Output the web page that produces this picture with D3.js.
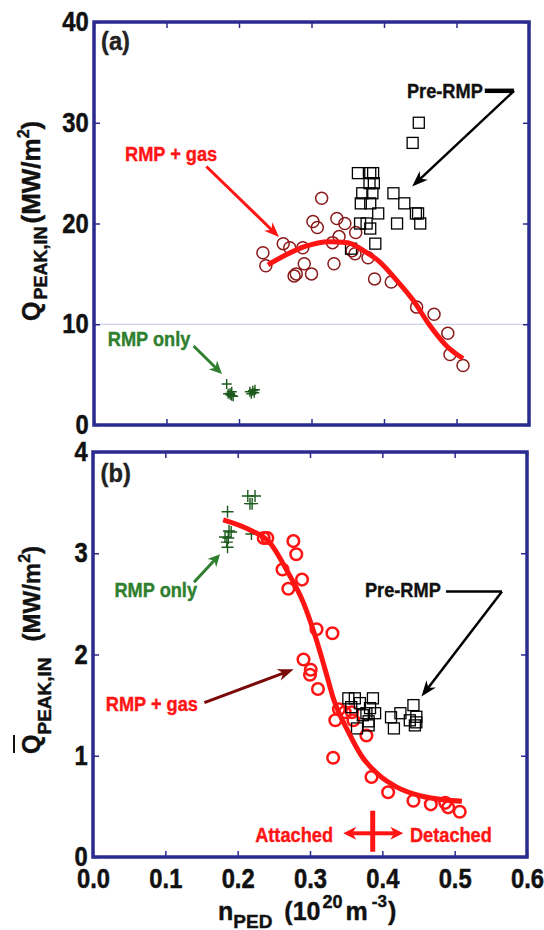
<!DOCTYPE html>
<html>
<head>
<meta charset="utf-8">
<script src="https://cdn.jsdelivr.net/npm/d3@7"></script>
<style>
  body { margin: 0; background: #fff; }
  svg text { font-family: "Liberation Sans", Arial, sans-serif; font-weight: bold; }
</style>
</head>
<body>
<svg id="chart"></svg>
<script>
const xTicks = [0, 0.1, 0.2, 0.3, 0.4, 0.5, 0.6];
const yTicksA = [0, 10, 20, 30, 40];
const yTicksB = [0, 1, 2, 3, 4];

// panel (a): peak heat flux
const gasA = [[0.233,17.1],[0.237,15.8],[0.261,18.0],[0.270,17.6],[0.288,17.6],[0.290,16.0],[0.276,14.8],[0.279,15.0],[0.300,15.0],[0.302,20.2],[0.308,19.6],[0.314,22.5],[0.329,18.1],[0.331,16.0],[0.335,20.5],[0.338,18.7],[0.346,20.0],[0.356,17.3],[0.360,17.0],[0.361,19.1],[0.378,16.6],[0.387,14.5],[0.410,14.2],[0.445,11.7],[0.469,11.0],[0.488,9.1],[0.491,7.0],[0.509,5.9]];
const preA = [[0.448,30.0],[0.4395,28.0],[0.364,25.0],[0.381,25.0],[0.385,25.0],[0.380,24.0],[0.386,24.0],[0.370,23.0],[0.384,23.0],[0.413,23.0],[0.368,22.0],[0.381,22.0],[0.428,22.0],[0.392,21.0],[0.444,21.0],[0.447,21.0],[0.367,20.0],[0.376,20.0],[0.418,20.0],[0.450,20.0],[0.381,19.5],[0.388,18.0],[0.3545,17.5]];
const onlyA = [[0.183,4.07],[0.1876,3.14],[0.185,3.1],[0.19,2.9],[0.192,2.85],[0.19,3.3],[0.188,3.0],[0.215,3.3],[0.219,3.4],[0.222,3.5],[0.221,3.2],[0.217,3.1]];
const fitA = [[0.240,15.9],[0.265,16.9],[0.290,17.7],[0.325,18.2],[0.350,18.1],[0.374,17.2],[0.394,16.2],[0.417,14.4],[0.440,12.4],[0.463,9.9],[0.487,7.8],[0.509,6.6]];

// panel (b): averaged peak heat flux
const gasB = [[0.236,3.15],[0.241,3.15],[0.277,3.12],[0.281,2.99],[0.262,2.84],[0.289,2.74],[0.270,2.65],[0.309,2.25],[0.331,2.21],[0.291,1.95],[0.301,1.85],[0.300,1.80],[0.311,1.66],[0.340,1.46],[0.335,1.35],[0.348,1.43],[0.358,1.43],[0.360,1.35],[0.378,1.20],[0.332,0.98],[0.385,0.79],[0.408,0.64],[0.443,0.555],[0.467,0.52],[0.487,0.535],[0.491,0.49],[0.507,0.447]];
const preB = [[0.353,1.567],[0.362,1.567],[0.387,1.567],[0.369,1.52],[0.383,1.47],[0.390,1.42],[0.378,1.42],[0.381,1.34],[0.365,1.27],[0.381,1.30],[0.412,1.38],[0.425,1.42],[0.416,1.27],[0.443,1.50],[0.438,1.35],[0.447,1.385],[0.445,1.30],[0.447,1.33],[0.373,1.40],[0.357,1.48]];
const onlyB = [[0.186,3.41],[0.214,3.565],[0.224,3.565],[0.217,3.49],[0.220,3.49],[0.191,3.21],[0.1825,3.16],[0.187,3.15],[0.185,3.11],[0.186,3.06],[0.188,3.22],[0.219,3.19]];
const fitB = [[0.180,3.33],[0.217,3.23],[0.245,3.10],[0.268,2.83],[0.291,2.51],[0.309,2.14],[0.321,1.85],[0.333,1.55],[0.352,1.25],[0.372,0.99],[0.395,0.81],[0.420,0.69],[0.455,0.60],[0.485,0.565],[0.510,0.55]];

const W = 544, H = 930;
const navy = "#2b2a8e", red = "#ff1414", green = "#2f7f2f", crossGreen = "#1b5a1b";

const svg = d3.select("#chart").attr("width", W).attr("height", H);

const xA = d3.scaleLinear([0, 0.6], [94, 529]);
const yA = d3.scaleLinear([0, 40], [425, 22]);
const xB = d3.scaleLinear([0, 0.6], [93, 527]);
const yB = d3.scaleLinear([0, 4], [857, 452]);

function label(x, y, str, size, color, anchor = "start", sx = 0.91) {
    return svg.append("g")
        .attr("transform", `translate(${x},${y}) scale(${sx},1)`)
        .append("text")
        .attr("font-size", size)
        .attr("fill", color)
        .attr("stroke", color).attr("stroke-width", 0.4)
        .attr("text-anchor", anchor)
        .text(str);
}

function arrow(x1, y1, x2, y2, color, w, len, half) {
    const a = Math.atan2(y2 - y1, x2 - x1);
    const ux = Math.cos(a), uy = Math.sin(a);
    const bx = x2 - ux * len, by = y2 - uy * len;
    svg.append("line")
        .attr("x1", x1).attr("y1", y1)
        .attr("x2", x2 - ux * len * 0.6).attr("y2", y2 - uy * len * 0.6)
        .attr("stroke", color).attr("stroke-width", w);
    const nx = x2 - ux * len * 0.7, ny = y2 - uy * len * 0.7;
    svg.append("path")
        .attr("d", `M${x2},${y2} L${bx - uy * half},${by + ux * half} L${nx},${ny} L${bx + uy * half},${by - ux * half} Z`)
        .attr("fill", color);
}

function panel(x, y, yTicks, withXLabels) {
    const g = svg.append("g");
    g.append("g").attr("transform", `translate(${x.range()[0]},0)`)
        .call(d3.axisLeft(y).tickValues(yTicks).tickSizeInner(-6).tickSizeOuter(0).tickPadding(6)
            .tickFormat(d3.format("d")));
    g.append("g").attr("transform", `translate(${x.range()[1]},0)`)
        .call(d3.axisRight(y).tickValues(yTicks).tickSizeInner(-6).tickSizeOuter(0).tickFormat(""));
    g.append("g").attr("transform", `translate(0,${y.range()[1]})`)
        .call(d3.axisTop(x).tickValues(xTicks).tickSizeInner(-6).tickSizeOuter(0).tickFormat(""));
    g.append("g").attr("transform", `translate(0,${y.range()[0]})`)
        .call(d3.axisBottom(x).tickValues(xTicks).tickSizeInner(-6).tickSizeOuter(0).tickPadding(12)
            .tickFormat(withXLabels ? d3.format(".1f") : ""));
    g.selectAll(".domain").remove();
    g.selectAll(".tick line").attr("stroke", navy).attr("stroke-width", 1.5);
    g.selectAll(".tick text")
        .attr("font-size", 27).attr("fill", "#111")
        .attr("stroke", "#111").attr("stroke-width", 0.5)
        .attr("transform", "scale(0.88,1)");
    return g;
}

function frame(x, y) {
    svg.append("rect")
        .attr("x", x.range()[0]).attr("y", y.range()[1])
        .attr("width", x.range()[1] - x.range()[0])
        .attr("height", y.range()[0] - y.range()[1])
        .attr("fill", "none").attr("stroke", navy).attr("stroke-width", 3.5);
}

function marks(x, y, gas, pre, only, fit, gasColor, gasW, r, cross) {
    svg.append("g").selectAll("circle").data(gas).join("circle")
        .attr("cx", d => x(d[0])).attr("cy", d => y(d[1])).attr("r", r)
        .attr("fill", "none").attr("stroke", gasColor).attr("stroke-width", gasW);
    svg.append("g").selectAll("rect").data(pre).join("rect")
        .attr("x", d => x(d[0]) - 5.5).attr("y", d => y(d[1]) - 5.5)
        .attr("width", 11).attr("height", 11)
        .attr("fill", "none").attr("stroke", "#000").attr("stroke-width", 1.3);
    svg.append("g").selectAll("path").data(only).join("path")
        .attr("d", d => `M${x(d[0]) - cross},${y(d[1])}h${2 * cross}M${x(d[0])},${y(d[1]) - cross}v${2 * cross}`)
        .attr("stroke", crossGreen).attr("stroke-width", 1.4);
    svg.append("path").datum(fit)
        .attr("d", d3.line().x(d => x(d[0])).y(d => y(d[1])).curve(d3.curveMonotoneX))
        .attr("fill", "none").attr("stroke", red).attr("stroke-width", 5);
}

// ---------- panel (a)
svg.append("line")
    .attr("x1", xA(0)).attr("x2", xA(0.6)).attr("y1", yA(10)).attr("y2", yA(10))
    .attr("stroke", "#c4c4e6").attr("stroke-width", 1);
panel(xA, yA, yTicksA, false);
marks(xA, yA, gasA, preA, onlyA, fitA, "#8b1a1a", 1.5, 6, 5);
frame(xA, yA);

label(xA(0.0097), yA(37.26), "(a)", 26, "#222");
label(xA(0.4317), yA(32.5), "Pre-RMP", 20, "#111");
svg.append("line")
    .attr("x1", xA(0.539)).attr("x2", xA(0.5794)).attr("y1", yA(33.17)).attr("y2", yA(33.17))
    .attr("stroke", "#000").attr("stroke-width", 4.5);
arrow(xA(0.5794), yA(33.17), xA(0.4388), yA(23.68), "#000", 2.5, 16, 6);
label(xA(0.0428), yA(26.25), "RMP + gas", 20, red);
arrow(xA(0.155), yA(25.66), xA(0.2552), yA(18.66), red, 3, 15, 6);
label(xA(0.019), yA(7.85), "RMP only", 20, green);
arrow(xA(0.1374), yA(7.84), xA(0.1766), yA(5.06), green, 3, 13, 6);

// y title (a)
const tA = svg.append("g").attr("transform", "translate(40,321) rotate(-90)")
    .append("text").attr("fill", "#111").attr("stroke", "#111").attr("stroke-width", 0.4).attr("font-size", 25);
tA.append("tspan").text("Q");
tA.append("tspan").attr("font-size", 18).attr("dy", 7).attr("dx", 2).text("PEAK,IN");
tA.append("tspan").attr("font-size", 26).attr("dy", -7).attr("dx", 3).text("(MW/m");
tA.append("tspan").attr("font-size", 16).attr("dy", -11).text("2");
tA.append("tspan").attr("font-size", 26).attr("dy", 11).text(")");

// ---------- panel (b)
panel(xB, yB, yTicksB, true);
marks(xB, yB, gasB, preB, onlyB, fitB, red, 2.5, 5.8, 6);
frame(xB, yB);

label(xB(0.0105), yB(3.70), "(b)", 26, "#222");
label(xB(0.0297), yB(2.564), "RMP only", 20, green);
arrow(xB(0.1396), yB(2.713), xB(0.1756), yB(2.99), green, 3, 12, 6);
label(xB(0.376), yB(2.568), "Pre-RMP", 20, "#111");
svg.append("path")
    .attr("d", `M${xB(0.488)},${yB(2.622)}L${xB(0.5654)},${yB(2.622)}`)
    .attr("stroke", "#000").attr("stroke-width", 2.5);
arrow(xB(0.5654), yB(2.622), xB(0.4541), yB(1.585), "#000", 2.5, 16, 6);
label(xB(0.0177), yB(1.442), "RMP + gas", 20, red);
arrow(xB(0.154), yB(1.525), xB(0.2775), yB(1.855), "#7a0a0a", 3, 16, 6);

label(xB(0.3318), yB(0.153), "Attached", 20, red, "end");
label(xB(0.4382), yB(0.151), "Detached", 20, red);
arrow(xB(0.3867), yB(0.234), xB(0.346), yB(0.234), red, 4, 13, 6.5);
arrow(xB(0.3867), yB(0.234), xB(0.429), yB(0.234), red, 4, 13, 6.5);
svg.append("line")
    .attr("x1", xB(0.3867)).attr("x2", xB(0.3867)).attr("y1", yB(0.457)).attr("y2", yB(0.052))
    .attr("stroke", red).attr("stroke-width", 5);

// y title (b)
const gB = svg.append("g").attr("transform", "translate(40,754) rotate(-90)");
gB.append("line").attr("x1", 1).attr("x2", 19).attr("y1", -26).attr("y2", -26)
    .attr("stroke", "#111").attr("stroke-width", 2);
const tB = gB.append("text").attr("fill", "#111").attr("stroke", "#111").attr("stroke-width", 0.4).attr("font-size", 25);
tB.append("tspan").text("Q");
tB.append("tspan").attr("font-size", 19).attr("dy", 11).text("PEAK,IN");
tB.append("tspan").attr("font-size", 24).attr("dy", -11).attr("dx", 16).text("(MW/m");
tB.append("tspan").attr("font-size", 16).attr("dy", -10).text("2");
tB.append("tspan").attr("font-size", 24).attr("dy", 10).text(")");

// x title
const tx = svg.append("g").attr("transform", "translate(218,920)")
    .append("text").attr("fill", "#111").attr("stroke", "#111").attr("stroke-width", 0.4).attr("font-size", 25);
tx.append("tspan").text("n");
tx.append("tspan").attr("font-size", 19).attr("dy", 8).text("PED");
tx.append("tspan").attr("dy", -8).attr("dx", 12).text("(10");
tx.append("tspan").attr("font-size", 18).attr("dy", -12).attr("dx", 2).text("20");
tx.append("tspan").attr("dy", 12).attr("dx", 3).text("m");
tx.append("tspan").attr("font-size", 17).attr("dy", -13).attr("dx", 4).text("-3");
tx.append("tspan").attr("dy", 13).attr("dx", 1).text(")");
</script>
</body>
</html>
